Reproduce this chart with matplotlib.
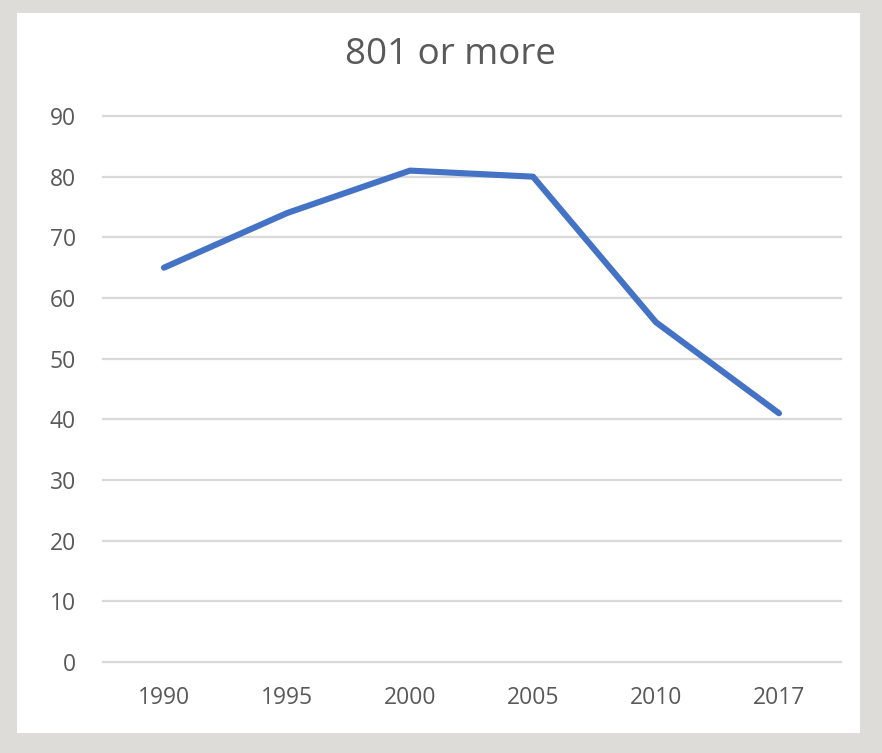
import matplotlib.pyplot as plt
from matplotlib.patches import Rectangle

years = ["1990", "1995", "2000", "2005", "2010", "2017"]
values = [65, 74, 81, 80, 56, 41]
title = "801 or more"

W, H = 882, 753
fig = plt.figure(figsize=(W / 100, H / 100), dpi=100)
fig.patch.set_facecolor("#dedcd8")

# white card behind the chart
fig.add_artist(Rectangle((17 / W, 1 - 733 / H), (860 - 17) / W, (733 - 13) / H,
                         transform=fig.transFigure, facecolor="white",
                         edgecolor="none", zorder=0))

ax = fig.add_axes([102.5 / W, 91 / H, (840.5 - 102.5) / W, (662 - 116) / H])
ax.set_facecolor("white")
ax.set_zorder(1)

x = range(len(years))
ax.plot(x, values, color="#4472C4", lw=4.4, solid_capstyle="round",
        solid_joinstyle="round", zorder=3)

ax.set_xlim(-0.5, len(years) - 0.5)
ax.set_ylim(0, 90)
ax.set_yticks(range(0, 91, 10))
ax.set_xticks(list(x))
ax.set_xticklabels(years)

for s in ax.spines.values():
    s.set_visible(False)
ax.grid(axis="y", color="#d9d9d9", lw=1.6)
for gl in ax.get_ygridlines():
    gl.set_clip_on(False)
ax.set_axisbelow(True)
ax.tick_params(length=0, labelsize=16.5, labelcolor="#595959")
ax.tick_params(axis="y", pad=19)
ax.tick_params(axis="x", pad=17)
for lab in ax.get_xticklabels() + ax.get_yticklabels():
    lab.set_fontfamily("Open Sans")

fig.text(450 / W, 1 - 55 / H, title, ha="center", va="center",
         fontsize=26.5, color="#595959", family="Open Sans")

fig.savefig("out.png", dpi=100, facecolor=fig.get_facecolor())
